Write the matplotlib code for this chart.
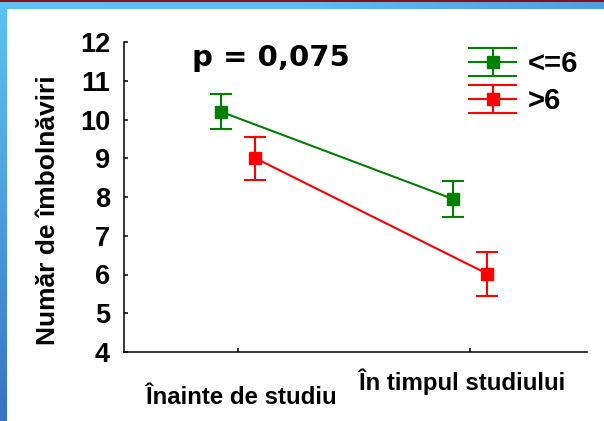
import numpy as np
import matplotlib
matplotlib.use('Agg')
import matplotlib.pyplot as plt
from matplotlib.legend_handler import HandlerBase
from matplotlib.lines import Line2D
from matplotlib.colors import LinearSegmentedColormap

plt.rcParams['font.family'] = ['Liberation Sans', 'DejaVu Sans']
plt.rcParams['font.weight'] = 'bold'

# data
periods = ["Înainte de studiu", "În timpul studiului"]
groups = ["<=6", ">6"]
means_le6 = [10.2, 7.95]
err_le6 = [0.45, 0.46]
means_gt6 = [9.0, 6.02]
err_gt6 = [0.55, 0.57]
colors = ["#008000", "#ff0000"]
y_ticks = [4, 5, 6, 7, 8, 9, 10, 11, 12]
p_text = "p = 0,075"


class CapHandler(HandlerBase):
    """legend entry: line with three horizontal bars and a square marker"""
    def create_artists(self, legend, orig_handle, xdescent, ydescent,
                       width, height, fontsize, trans):
        c = orig_handle.get_color()
        mid = height / 2 - ydescent
        x0, x1 = -xdescent, width - xdescent
        xm = (x0 + x1) / 2
        arts = []
        for dy in (-10, 0, 10):
            arts.append(Line2D([x0, x1], [mid + dy, mid + dy], color=c, lw=1.5, transform=trans))
        arts.append(Line2D([xm, xm], [mid - 10, mid + 10], color=c, lw=1.5, transform=trans))
        arts.append(Line2D([xm], [mid], marker='s', ms=8.5, color=c, lw=0, transform=trans))
        return arts


fig = plt.figure(figsize=(6.04, 4.21), dpi=100)

# slide frame behind the chart
bg = fig.add_axes([0, 0, 1, 1], zorder=-5)
bg.set_xlim(0, 604)
bg.set_ylim(421, 0)
bg.axis('off')
top_grad = np.linspace(0, 1, 200).reshape(1, -1)
left_grad = np.linspace(0, 1, 200).reshape(-1, 1)
cm_top = LinearSegmentedColormap.from_list('t', ['#5cc2f2', '#5cbcf0', '#4f9fe0'])
cm_left = LinearSegmentedColormap.from_list('l', ['#5cc2f2', '#4c9ee0', '#3a72c4'])
bg.imshow(top_grad, cmap=cm_top, extent=[0, 604, 9, 0], aspect='auto')
bg.imshow(left_grad, cmap=cm_left, extent=[0, 7, 421, 0], aspect='auto')
bg.add_patch(plt.Rectangle((0, 0), 604, 2, color='#8a1010', lw=0))

ax = fig.add_axes([124 / 604, 1 - 352 / 421, 463 / 604, 310 / 421])
ax.set_facecolor('none')

x = np.arange(len(periods))
off = 0.074
ax.errorbar(x - off, means_le6, yerr=err_le6, fmt='-s', color=colors[0], ms=8.5,
            lw=1.5, elinewidth=1.5, capsize=8, capthick=1.5, label=groups[0])
ax.errorbar(x + off, means_gt6, yerr=err_gt6, fmt='-s', color=colors[1], ms=8.5,
            lw=1.5, elinewidth=1.5, capsize=8, capthick=1.5, label=groups[1])

ax.set_xlim(-0.493, 1.505)
ax.set_ylim(4, 12)
ax.set_yticks(y_ticks)
ax.set_xticks(x)
ax.set_xticklabels([])
ax.tick_params(direction='in', length=3, width=1.1, pad=10)
ax.tick_params(axis='y', labelsize=19.5)
for s in ['top', 'right']:
    ax.spines[s].set_visible(False)
for s in ['left', 'bottom']:
    ax.spines[s].set_linewidth(1.1)

# staggered category labels
lab_y = [-0.148, -0.097]
lab_dx = [2, -6]
for i, name in enumerate(periods):
    ax.annotate(name, xy=(x[i], lab_y[i]), xycoords=ax.get_xaxis_transform(),
                xytext=(lab_dx[i], 0), textcoords='offset points',
                ha='center', va='center', fontsize=17.3, fontweight='bold')

fig.text(48 / 604, 1 - 210 / 421, "Număr de îmbolnăviri", rotation=90,
         ha='center', va='center', fontsize=19, fontweight='bold')
fig.text(271 / 604, 1 - 66 / 421, p_text, ha='center', va='baseline',
         fontsize=21, fontweight='bold', family='DejaVu Sans')

handles = [Line2D([], [], color=c) for c in colors]
leg = ax.legend(handles, groups, handler_map={Line2D: CapHandler()},
                loc='upper left', bbox_to_anchor=(469 / 604, 1 - 50 / 421),
                bbox_transform=fig.transFigure, frameon=False,
                fontsize=21, handlelength=1.62, handletextpad=0.4,
                labelspacing=0.32, borderpad=0, borderaxespad=0)

fig.savefig('out.png', dpi=100)
